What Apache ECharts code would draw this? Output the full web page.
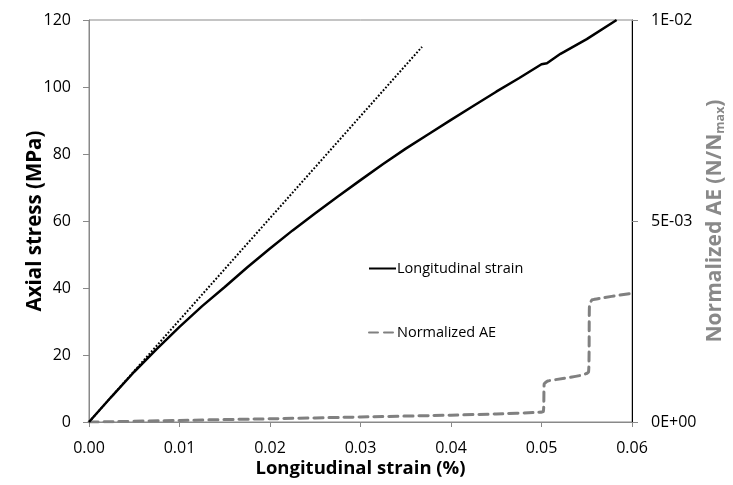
<!DOCTYPE html>
<html>
<head>
<meta charset="utf-8">
<script src="https://cdn.jsdelivr.net/npm/echarts@6/dist/echarts.min.js"></script>
<style>html,body{margin:0;padding:0;background:#fff}#c{width:733px;height:485px}</style>
</head>
<body>
<div id="c"></div>
<script>
// Longitudinal strain (%) vs axial stress (MPa)
var strainX = [0, 0.0025, 0.005, 0.0075, 0.01, 0.0125, 0.015, 0.0175, 0.02, 0.0225, 0.025, 0.0275, 0.03, 0.0325, 0.035, 0.0375, 0.04, 0.0425, 0.045, 0.0475, 0.05, 0.0506, 0.0521, 0.055, 0.0583];
var stressY = [0, 7.6, 15, 21.8, 28.4, 34.6, 40.3, 46.2, 51.8, 57.2, 62.3, 67.3, 72.2, 77, 81.6, 85.9, 90.2, 94.4, 98.6, 102.6, 106.8, 107.1, 109.9, 114.3, 120];
// Linear fit (dotted)
var fitX = [0, 0.0368];
var fitY = [0, 112];
// Normalized AE (right axis)
var aeX = [0, 0.002, 0.01, 0.02, 0.03, 0.04, 0.045, 0.0495, 0.0502, 0.0503, 0.0507, 0.0552, 0.0553, 0.0556, 0.06];
var aeY = [0, 0.000005, 0.00004, 0.00008, 0.000125, 0.00017, 0.0002, 0.00024, 0.00026, 0.00095, 0.00102, 0.00125, 0.0029, 0.00304, 0.0032];
var xTicks = [0, 0.01, 0.02, 0.03, 0.04, 0.05, 0.06];

function zip(a, b) { return a.map(function (v, i) { return [v, b[i]]; }); }
function sci(v) {
  if (v === 0) return '0E+00';
  var e = Math.floor(Math.log10(Math.abs(v)) + 1e-9);
  var m = Math.round(v / Math.pow(10, e));
  var s = e < 0 ? '-' : '+';
  var a = Math.abs(e);
  return m + 'E' + s + (a < 10 ? '0' + a : a);
}
var FONT = 'Open Sans';
var chart = echarts.init(document.getElementById('c'));
chart.setOption({
  animation: false,
  backgroundColor: '#fff',
  textStyle: { fontFamily: FONT },
  grid: { left: 89, right: 101, top: 20, bottom: 63, show: true, borderColor: '#898989', borderWidth: 1, containLabel: false, outerBoundsMode: 'none' },
  legend: {
    data: [
      { name: 'Longitudinal strain', itemStyle: { opacity: 0 } },
      { name: 'Normalized AE', itemStyle: { opacity: 0 } }
    ],
    orient: 'vertical', left: 363, top: 256, itemGap: 49, itemWidth: 27, itemHeight: 14,
    textStyle: { fontFamily: FONT, fontSize: 14.5, color: '#000', padding: [0, 0, 0, -4] }
  },
  xAxis: {
    type: 'value', min: xTicks[0], max: xTicks[xTicks.length - 1], interval: 0.01,
    name: 'Longitudinal strain (%)', nameLocation: 'middle', nameGap: 37, nameMoveOverlap: false,
    nameTextStyle: { fontFamily: FONT, fontSize: 18.5, fontWeight: 'bold', color: '#000' },
    axisLine: { lineStyle: { color: '#898989', width: 1 } },
    axisTick: { show: true, length: 5, lineStyle: { color: '#898989' } },
    axisLabel: { fontFamily: FONT, fontSize: 16, color: '#000', margin: 18, formatter: function (v) { return v.toFixed(2); } },
    splitLine: { show: false }
  },
  yAxis: [{
    type: 'value', min: 0, max: 120, interval: 20, position: 'left',
    name: 'Axial stress (MPa)', nameLocation: 'middle', nameGap: 43, nameMoveOverlap: false,
    nameTextStyle: { fontFamily: FONT, fontSize: 20.5, fontWeight: 'bold', color: '#000' },
    axisLine: { show: true, lineStyle: { color: '#898989', width: 1 } },
    axisTick: { show: true, length: 6, lineStyle: { color: '#898989' } },
    axisLabel: { fontFamily: FONT, fontSize: 16, color: '#000', margin: 18 },
    splitLine: { show: false }
  }, {
    type: 'value', min: 0, max: 0.01, interval: 0.005, position: 'right',
    name: '{a|Normalized AE (N/N}{s|max}{a|)}', nameLocation: 'middle', nameGap: 72, nameMoveOverlap: false,
    nameTextStyle: {
      rich: {
        a: { fontFamily: FONT, fontSize: 21, fontWeight: 'bold', color: '#898989' },
        s: { fontFamily: FONT, fontSize: 12.5, fontWeight: 'bold', color: '#898989', verticalAlign: 'bottom', padding: [10, 0, 0, 0] }
      }
    },
    axisLine: { show: true, lineStyle: { color: '#000', width: 1 } },
    axisTick: { show: true, length: 6, lineStyle: { color: '#898989' } },
    axisLabel: { fontFamily: FONT, fontSize: 16, color: '#000', margin: 19, formatter: sci },
    splitLine: { show: false }
  }],
  series: [{
    name: 'Longitudinal strain', type: 'line', yAxisIndex: 0, symbol: 'none',
    data: zip(strainX, stressY),
    lineStyle: { color: '#000', width: 2.5 }, itemStyle: { color: '#000' }, z: 3
  }, {
    name: 'Linear', type: 'line', yAxisIndex: 0, symbol: 'none',
    data: zip(fitX, fitY),
    lineStyle: { color: '#000', width: 2, type: [1.8, 1.8] }, itemStyle: { color: '#000' }, z: 2
  }, {
    name: 'Normalized AE', type: 'line', yAxisIndex: 1, symbol: 'none', smooth: 0.15,
    data: zip(aeX, aeY),
    lineStyle: { color: '#808080', width: 3, type: [9, 6], cap: 'round' }, itemStyle: { color: '#808080' }, z: 2
  }]
});
</script>
</body>
</html>
